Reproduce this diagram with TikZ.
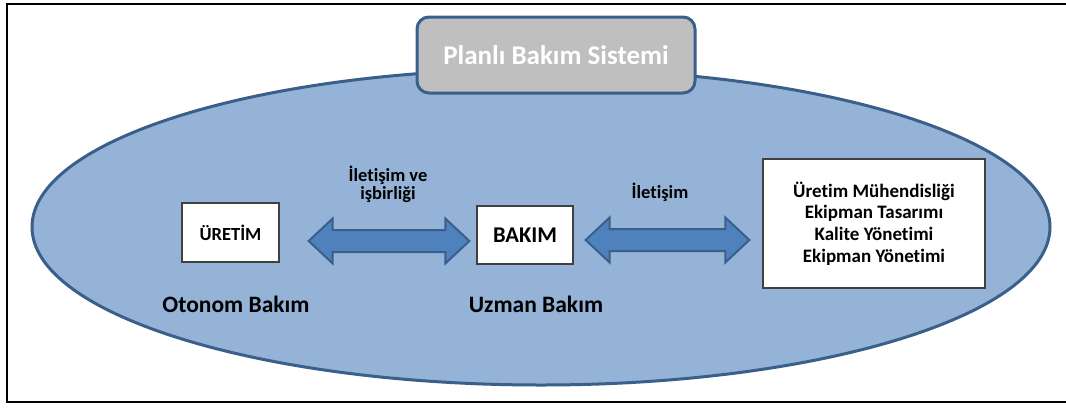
\documentclass[tikz,border=0pt]{standalone}
\usepackage{fontspec}
\setmainfont{Carlito}[Ligatures={NoCommon}]
\usetikzlibrary{shapes.geometric,calc}
\definecolor{ellfill}{HTML}{95B3D7}
\definecolor{navyline}{HTML}{3A5F8B}
\definecolor{arrowfill}{HTML}{4F81BD}
\definecolor{titlefill}{HTML}{BFBFBF}
\definecolor{boxline}{HTML}{404040}

% double-headed block arrow between two coordinates (head 24 long, 45 wide, shaft 22)
\newcommand\dblarrow[2]{%
  \draw[blockarrow] (#1) -- ($(#1)+(24,-22.5)$) -- ($(#1)+(24,-11)$)
    -- ($(#2)+(-24,-11)$) -- ($(#2)+(-24,-22.5)$) -- (#2)
    -- ($(#2)+(-24,22.5)$) -- ($(#2)+(-24,11)$)
    -- ($(#1)+(24,11)$) -- ($(#1)+(24,22.5)$) -- cycle;}

\begin{document}
\begin{tikzpicture}[x=1pt,y=-1pt,
  system/.style={ellipse,draw=navyline,line width=3pt,fill=ellfill,
    minimum width=1018pt,minimum height=316pt,inner sep=0pt},
  titlebox/.style={draw=navyline,line width=3pt,fill=titlefill,rounded corners=12pt,
    minimum width=278pt,minimum height=76pt,inner sep=0pt,text=white,
    font=\bfseries\fontsize{27}{32}\selectfont},
  unitbox/.style={draw=boxline,line width=1.3pt,fill=white,inner sep=0pt},
  blockarrow/.style={draw=navyline,line width=2pt,fill=arrowfill,line join=miter},
  label/.style={align=center,inner sep=0pt,font=\bfseries\fontsize{18.5}{18}\selectfont},
  biglabel/.style={inner sep=0pt,font=\bfseries\fontsize{23.5}{28}\selectfont}]
  \useasboundingbox (0,0) rectangle (1066,408);
  \fill[white] (0,0) rectangle (1066,408);

  % outer frame (runs off the right edge)
  \draw[line width=2pt] (1070,4) -- (7,4) -- (7,402) -- (1070,402);

  % system ellipse and its title
  \node[system] (sys) at (541,227) {};
  \node[titlebox] (title) at (556,55) {Planlı Bakım Sistemi};

  % units
  \node[unitbox,minimum width=97pt,minimum height=59pt,
        font=\bfseries\fontsize{18.5}{22}\selectfont] (uretim) at (230.5,232.5) {ÜRETİM};
  \node[unitbox,minimum width=96pt,minimum height=58pt,
        font=\bfseries\fontsize{22.5}{27}\selectfont] (bakim) at (525,235) {BAKIM};
  \node[unitbox,minimum width=222pt,minimum height=129pt,align=center,
        font=\bfseries\fontsize{19}{21.7}\selectfont] (destek) at (874,223.5)
        {Üretim Mühendisliği\\Ekipman Tasarımı\\Kalite Yönetimi\\Ekipman Yönetimi};

  % block arrows between units
  \coordinate (a1s) at ($(uretim.east)+(29,8.5)$);
  \coordinate (a1e) at ($(bakim.west)+(-7,6)$);
  \coordinate (a2s) at ($(bakim.east)+(12,5)$);
  \coordinate (a2e) at ($(destek.west)+(-13,16.5)$);
  \dblarrow{a1s}{a1e}
  \dblarrow{a2s}{a2e}

  % labels
  \node[label] (l1) at (388,184) {İletişim ve\\işbirliği};
  \node[label] (l2) at (660,192) {İletişim};
  \node[biglabel] (oto) at (236,304) {Otonom Bakım};
  \node[biglabel] (uzm) at (536,304) {Uzman Bakım};
\end{tikzpicture}
\end{document}
